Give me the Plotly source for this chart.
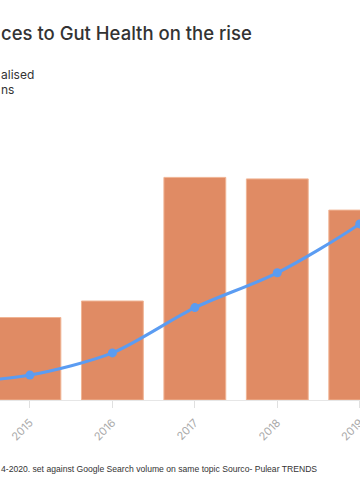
import plotly.graph_objects as go

years = [2014, 2015, 2016, 2017, 2018, 2019, 2020]
bar_values = [20, 27.5, 33, 74.2, 73.7, 63.3, 70]
line_values = [5.5, 8.3, 15.7, 30.8, 42.4, 58.7, 80]
tick_years = [2015, 2016, 2017, 2018, 2019]

title_text = "ces to Gut Health on the rise"
legend_lines = ["alised", "ns"]
footnote = "4-2020. set against Google Search volume on same topic Sourco- Pulear TRENDS"

W, H = 360, 500
T, B = 100, 100

def py(y):
    return (H - B - y) / (H - T - B)

fig = go.Figure()
fig.add_trace(go.Bar(
    x=years, y=bar_values,
    marker=dict(color="#e08b64", line=dict(color="#f0b494", width=1)),
    width=0.75, yaxis="y", showlegend=False,
))
fig.add_trace(go.Scatter(
    x=years, y=line_values, mode="lines+markers", yaxis="y2",
    line=dict(color="#5b9cf2", width=3, shape="spline", smoothing=0.8),
    marker=dict(color="#5b9cf2", size=9), showlegend=False,
))

fig.update_layout(
    width=W, height=H,
    margin=dict(l=0, r=0, t=T, b=B, autoexpand=False),
    paper_bgcolor="white", plot_bgcolor="white",
    xaxis=dict(
        range=[2014.637, 2019.003], tickmode="array", tickvals=tick_years,
        ticktext=[str(y) for y in tick_years], tickangle=-45,
        ticklabeloverflow="allow", automargin=False, ticklabelstandoff=4,
        tickfont=dict(family="Inter, Lato, sans-serif", size=11, color="#aaaaaa"),
        showline=True, linecolor="#e6e6e6", linewidth=1,
        ticks="outside", ticklen=7, tickcolor="#e0e0e0",
        showgrid=False, zeroline=False,
    ),
    yaxis=dict(range=[0, 100], visible=False, showgrid=False, automargin=False),
    yaxis2=dict(range=[0, 100], visible=False, overlaying="y", showgrid=False, automargin=False),
    font=dict(family="Inter, Lato, sans-serif", color="#333333"),
)

fig.add_annotation(
    text=title_text, xref="paper", yref="paper", x=-0.002, y=py(33),
    xanchor="left", yanchor="middle", showarrow=False,
    font=dict(family="Inter, Lato, sans-serif", size=18.5, color="#333333", weight=500),
)
for i, t in enumerate(legend_lines):
    fig.add_annotation(
        text=t, xref="paper", yref="paper", x=-0.002, y=py(74 + 15 * i),
        xanchor="left", yanchor="middle", showarrow=False,
        font=dict(family="Inter, Lato, sans-serif", size=12, color="#333333"),
    )
fig.add_annotation(
    text=footnote, xref="paper", yref="paper", x=-0.002, y=py(469),
    xanchor="left", yanchor="middle", showarrow=False,
    font=dict(family="Liberation Sans, Arial, sans-serif", size=8.6, color="#333333"),
)

fig.write_html(
    "out.html",
    config={"displayModeBar": False},
    post_script="document.body.style.margin='0';document.body.style.overflow='hidden';",
)
